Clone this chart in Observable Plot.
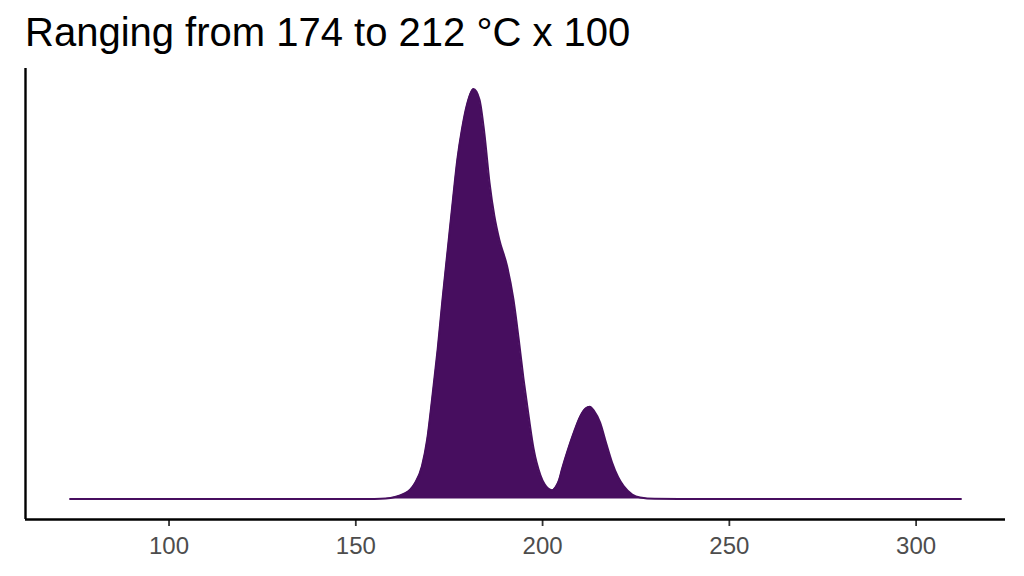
<!DOCTYPE html>
<html>
<head>
<meta charset="utf-8">
<script src="https://cdn.jsdelivr.net/npm/d3@7"></script>
<script src="https://cdn.jsdelivr.net/npm/@observablehq/plot@0.6"></script>
<style>
  html, body { margin: 0; padding: 0; background: #fff; }
  #title { box-sizing: border-box; height: 62px; padding: 12px 0 0 25px; font-family: "Liberation Sans", Arial, sans-serif; font-size: 40px; line-height: 40px; color: #000; white-space: nowrap; }
</style>
</head>
<body>
<div id="title">Ranging from 174 to 212 °C x 100</div>
<div id="chart"></div>
<script>
const titleText = "Ranging from 174 to 212 °C x 100";
const temp = [73.5, 150, 155, 158, 160.5, 162.8, 164.6, 165.9, 167.7, 169.1, 170.4, 171.9, 173.2, 174.6, 176.0, 177.2, 178.4, 179.8, 181.5, 183.1, 184.4, 185.8, 187.1, 188.4, 190.5, 192.2, 193.6, 194.9, 196.3, 197.6, 199.4, 200.5, 201.5, 202.5, 203.5, 204.4, 205.2, 206.5, 208.5, 210.1, 211.5, 212.6, 213.8, 215.4, 217, 218.6, 220.2, 221.7, 224, 226.1, 230, 240, 312];
const dens = [0, 0, 0.1, 0.5, 2, 5, 9.5, 16.2, 32.8, 59.5, 99.5, 149.5, 199.5, 249.5, 299.5, 340, 369.5, 395, 410, 399.5, 366.2, 316.2, 282.8, 259.5, 232.8, 199.5, 160, 120, 82, 50, 24, 15, 10.5, 8.8, 12, 19, 30, 46, 68, 82.8, 90.5, 92.2, 88, 76.5, 56, 36.5, 22, 12.8, 4.5, 1.5, 0.2, 0, 0];
const xTicks = [100, 150, 200, 250, 300];

const data = temp.map((t, i) => ({temp: t, dens: dens[i]}));
const xMin = d3.min(temp), xMax = d3.max(temp), xPad = (xMax - xMin) * 0.05;
const yMax = d3.max(dens), yPad = yMax * 0.05;
const col = "#470E5F";

const chart = Plot.plot({
  width: 1024,
  height: 514,
  marginTop: 6,
  marginBottom: 57,
  marginLeft: 25,
  marginRight: 19,
  style: {fontFamily: "'Liberation Sans', Arial, sans-serif", background: "#fff"},
  x: {domain: [xMin - xPad, xMax + xPad]},
  y: {domain: [-yPad, yMax + yPad], axis: null},
  marks: [
    Plot.areaY(data, {x: "temp", y: "dens", fill: col, curve: "monotone-x"}),
    Plot.lineY(data, {x: "temp", y: "dens", stroke: col, strokeWidth: 2, curve: "monotone-x"}),
    Plot.axisX({ticks: xTicks, tickSize: 7, tickPadding: 10, fontSize: 24, stroke: "#333", strokeWidth: 1.8, color: "#4d4d4d", label: null, tickFormat: d => String(d)}),
    Plot.ruleY([-yPad], {stroke: "#000", strokeWidth: 2.4}),
    Plot.ruleX([xMin - xPad], {stroke: "#000", strokeWidth: 2.4})
  ]
});
document.getElementById("chart").appendChild(chart);
</script>
</body>
</html>
